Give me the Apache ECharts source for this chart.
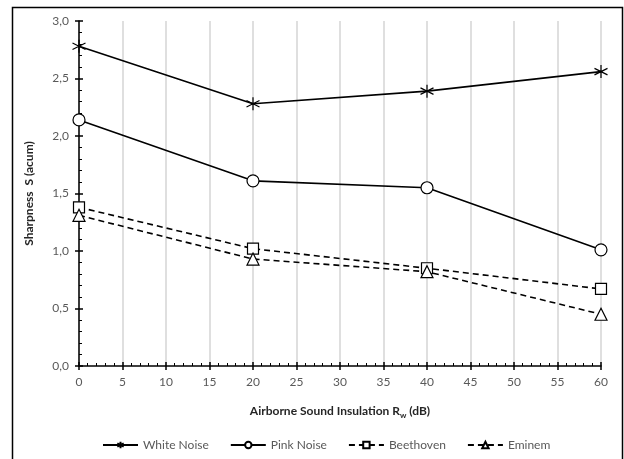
<!DOCTYPE html>
<html>
<head>
<meta charset="utf-8">
<script src="https://cdn.jsdelivr.net/npm/echarts@6/dist/echarts.min.js"></script>
<style>
  html, body { margin: 0; padding: 0; background: #fff; }
  #chart { width: 624px; height: 459px; }
</style>
</head>
<body>
<div id="chart"></div>
<script>
// Airborne sound insulation Rw (dB)
const insulation = [0, 20, 40, 60];
// Sharpness S (acum) for each stimulus
const whiteNoise = [2.78, 2.28, 2.39, 2.56];
const pinkNoise  = [2.14, 1.61, 1.55, 1.01];
const beethoven  = [1.38, 1.02, 0.85, 0.67];
const eminem     = [1.31, 0.93, 0.82, 0.45];
const seriesNames = ['White Noise', 'Pink Noise', 'Beethoven', 'Eminem'];

const FONT = 'Lato, "Open Sans", sans-serif';
const LABEL = '#595959';

// six-spoke asterisk marker
const asterisk = 'path://M0,-10L0,10M-8.66,-5L8.66,5M-8.66,5L8.66,-5';

const pairs = vals => insulation.map((x, i) => [x, vals[i]]);
const comma = v => v.toFixed(1).replace('.', ',');

function lineSeries(name, vals, symbol, size, dashed) {
  return {
    name: name,
    type: 'line',
    data: pairs(vals),
    symbol: symbol,
    symbolSize: size,
    showAllSymbol: true,
    lineStyle: { color: '#000', width: 1.6, type: dashed ? [6, 4] : 'solid' },
    itemStyle: { color: '#fff', borderColor: '#000', borderWidth: 1.2 },
    emphasis: { disabled: true },
    z: 3
  };
}

const chart = echarts.init(document.getElementById('chart'), null, { renderer: 'canvas' });

const xCommon = {
  type: 'value', min: 0, max: 60, interval: 5,
  position: 'bottom'
};
const yCommon = {
  type: 'value', min: 0, max: 3, interval: 0.5,
  position: 'left'
};

chart.setOption({
  animation: false,
  backgroundColor: '#fff',
  textStyle: { fontFamily: FONT },
  grid: { left: 79, right: 23, top: 21, bottom: 93, containLabel: false },
  graphic: [{
    type: 'rect',
    shape: { x: 12.5, y: 7.5, width: 610, height: 470 },
    style: { fill: 'none', stroke: '#000', lineWidth: 1.5 },
    silent: true, z: -1
  }],
  legend: {
    data: seriesNames,
    top: 434,
    left: 97,
    itemWidth: 35,
    itemHeight: 8,
    itemGap: 21,
    textStyle: { color: LABEL, fontSize: 12, fontFamily: FONT }
  },
  xAxis: [
    Object.assign({}, xCommon, {
      name: 'Airborne Sound Insulation R{sub|w} (dB)',
      nameLocation: 'middle',
      nameGap: 38,
      nameTextStyle: {
        fontWeight: 'bold', fontSize: 12, color: '#262626', fontFamily: FONT,
        rich: { sub: { fontSize: 8, fontWeight: 'bold', color: '#262626', padding: [7, 0, 0, 0], fontFamily: FONT } }
      },
      axisLine: { lineStyle: { color: '#000', width: 1.5 } },
      axisTick: { show: true, length: 4, lineStyle: { color: '#000', width: 1.5 } },
      minorTick: { show: false },
      axisLabel: { color: LABEL, fontSize: 12, margin: 10, fontFamily: FONT },
      splitLine: { show: true, lineStyle: { color: '#d4d4d4', width: 1.5 } }
    }),
    Object.assign({}, xCommon, {
      axisLine: { show: false },
      axisTick: { show: true, inside: true, length: 4, lineStyle: { color: '#000', width: 1.5 } },
      minorTick: { show: true, splitNumber: 5, length: 3, lineStyle: { color: '#000', width: 1 } },
      axisLabel: { show: false },
      splitLine: { show: false }
    })
  ],
  yAxis: [
    Object.assign({}, yCommon, {
      name: 'Sharpness  S (acum)',
      nameLocation: 'middle',
      nameGap: 44,
      nameTextStyle: { fontWeight: 'bold', fontSize: 12, color: '#262626', fontFamily: FONT },
      axisLine: { show: true, lineStyle: { color: '#000', width: 1.5 } },
      axisTick: { show: true, length: 4, lineStyle: { color: '#000', width: 1.5 } },
      minorTick: { show: false },
      axisLabel: { color: LABEL, fontSize: 12, margin: 10, formatter: comma, fontFamily: FONT },
      splitLine: { show: false }
    }),
    Object.assign({}, yCommon, {
      axisLine: { show: false },
      axisTick: { show: true, inside: true, length: 4, lineStyle: { color: '#000', width: 1.5 } },
      minorTick: { show: true, splitNumber: 5, length: 3, lineStyle: { color: '#000', width: 1 } },
      axisLabel: { show: false },
      splitLine: { show: false }
    })
  ],
  series: [
    lineSeries(seriesNames[0], whiteNoise, asterisk, 13, false),
    lineSeries(seriesNames[1], pinkNoise, 'circle', 12, false),
    lineSeries(seriesNames[2], beethoven, 'rect', 11, true),
    lineSeries(seriesNames[3], eminem, 'triangle', 12, true)
  ]
});
</script>
</body>
</html>
